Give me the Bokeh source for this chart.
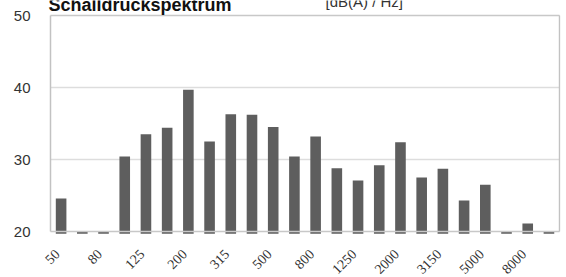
import math
from bokeh.plotting import figure
from bokeh.models import ColumnDataSource, FixedTicker, Label, LabelSet, Range1d
from bokeh.embed import file_html
from bokeh.resources import INLINE

# ---- data ----
bands = ["50", "63", "80", "100", "125", "160", "200", "250", "315", "400",
         "500", "630", "800", "1000", "1250", "1600", "2000", "2500", "3150",
         "4000", "5000", "6300", "8000", "10000"]
levels = [24.6, 20.0, 20.0, 30.4, 33.5, 34.4, 39.7, 32.5, 36.3, 36.2,
          34.5, 30.4, 33.2, 28.8, 27.1, 29.2, 32.4, 27.5, 28.7,
          24.3, 26.5, 20.0, 21.1, 20.0]
y_ticks = [20, 30, 40, 50]
title_text = "Schalldruckspektrum"
unit_text = "[dB(A) / Hz]"

idx = list(range(len(bands)))
lab_idx = idx[::2]
n = len(bands)

# view ranges (frame fills the canvas; box drawn from 20..50)
px_y = 7.2
px_x = 21.21
y_lo = y_ticks[0] - 46 / px_y
y_hi = y_ticks[-1] + 15 / px_y
x_lo = -0.5 - 20 / px_x
x_hi = x_lo + 530 / px_x
bar_base = y_ticks[0] - 0.3

src = ColumnDataSource(dict(x=idx, top=levels, band=bands))
lab_src = ColumnDataSource(dict(x=lab_idx, y=[y_ticks[0]] * len(lab_idx),
                                text=[bands[i] for i in lab_idx]))
inner = y_ticks[1:-1]
outer = [y_ticks[0], y_ticks[-1]]
grid_src = ColumnDataSource(dict(x0=[-0.5] * len(inner), x1=[n - 0.5] * len(inner), y=inner))
hbox_src = ColumnDataSource(dict(x0=[-0.5] * 2, x1=[n - 0.5] * 2, y=outer))
vbox_src = ColumnDataSource(dict(x=[-0.5, n - 0.5], y0=[y_ticks[0]] * 2, y1=[y_ticks[-1]] * 2))

p = figure(width=566, height=277, output_backend="svg", toolbar_location=None,
           x_range=Range1d(x_lo, x_hi),
           y_range=Range1d(y_lo, y_hi),
           x_axis_location=None,
           min_border_left=30, min_border_top=0, min_border_right=6,
           min_border_bottom=0)
p.outline_line_color = None
p.background_fill_color = "white"
p.border_fill_color = "white"
p.xgrid.grid_line_color = None
p.ygrid.grid_line_color = None

# grid lines and box
p.segment(x0="x0", y0="y", x1="x1", y1="y", source=grid_src,
          line_color="#dddddd", line_width=1.5)

p.vbar(x="x", top="top", bottom=bar_base, width=0.5, source=src,
       fill_color="#5e5e5e", line_color=None)

p.segment(x0="x0", y0="y", x1="x1", y1="y", source=hbox_src,
          line_color="#c8c8c8", line_width=1.5)
p.segment(x0="x", y0="y0", x1="x", y1="y1", source=vbox_src,
          line_color="#c2c2c2", line_width=1.5)

# y axis
p.yaxis.ticker = FixedTicker(ticks=y_ticks)
p.yaxis.axis_line_color = None
p.yaxis.major_tick_line_color = None
p.yaxis.minor_tick_line_color = None
p.yaxis.major_tick_out = 0
p.yaxis.major_tick_in = 0
p.yaxis.major_label_standoff = 0
p.yaxis.major_label_text_font = "Liberation Sans"
p.yaxis.major_label_text_font_size = "15px"
p.yaxis.major_label_text_color = "#333333"

# x tick labels (rotated)
labels = LabelSet(x="x", y="y", text="text", source=lab_src,
                  angle=math.pi / 4, text_align="right", text_baseline="middle",
                  x_offset=-4, y_offset=-20,
                  text_font="Liberation Sans", text_font_size="14px",
                  text_color="#333333")
p.add_layout(labels)

title = Label(x=-0.5, y=y_ticks[-1], x_offset=-2, y_offset=11, text=title_text,
              text_font="Liberation Sans", text_font_size="18px",
              text_font_style="bold", text_color="#111111",
              text_baseline="alphabetic", text_align="left")
p.add_layout(title)
unit = Label(x=-0.5, y=y_ticks[-1], x_offset=275, y_offset=14, text=unit_text,
             text_font="Liberation Sans", text_font_size="15px",
             text_color="#333333", text_baseline="alphabetic", text_align="left")
p.add_layout(unit)

open("out.html", "w").write(file_html(p, INLINE))
